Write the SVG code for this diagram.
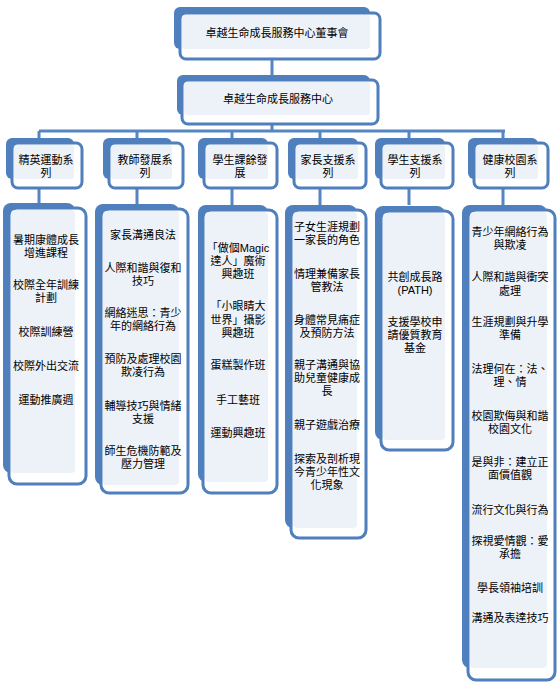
<svg xmlns="http://www.w3.org/2000/svg" width="557" height="683" viewBox="0 0 557 683">
<style>
.bk{fill:#4f7fbd}
.fr{fill:#ffffff;stroke:#4f7fbd;stroke-width:3}
.in{fill:#edf1f8}
.c{stroke:#5585c2;stroke-width:3;fill:none}
text{font-family:"Liberation Sans","Noto Sans CJK TC","Noto Sans CJK SC",sans-serif;font-size:11px;fill:#000;text-anchor:middle;dominant-baseline:central}
</style>
<rect width="557" height="683" fill="#ffffff"/>
<g id="connectors">
<line class="c" x1="272" y1="58" x2="272" y2="76"/>
<line class="c" x1="272" y1="123" x2="272" y2="131"/>
<line class="c" x1="39" y1="131" x2="505" y2="131"/>
<line class="c" x1="39" y1="131" x2="39" y2="139"/>
<line class="c" x1="137" y1="131" x2="137" y2="139"/>
<line class="c" x1="232" y1="131" x2="232" y2="139"/>
<line class="c" x1="320" y1="131" x2="320" y2="139"/>
<line class="c" x1="409" y1="131" x2="409" y2="139"/>
<line class="c" x1="503" y1="131" x2="503" y2="139"/>
<line class="c" x1="39" y1="188" x2="39" y2="205"/>
<line class="c" x1="137" y1="188" x2="137" y2="205"/>
<line class="c" x1="232" y1="188" x2="232" y2="205"/>
<line class="c" x1="320" y1="188" x2="320" y2="205"/>
<line class="c" x1="409" y1="188" x2="409" y2="205"/>
<line class="c" x1="503" y1="188" x2="503" y2="205"/>
</g>
<g id="board">
<rect class="bk" x="174" y="7" width="196" height="42" rx="6"/>
<rect class="fr" x="180" y="13" width="200" height="46" rx="6"/>
<rect class="in" x="182" y="15" width="188" height="34" rx="3"/>
<text x="277" y="33">卓越生命成長服務中心董事會</text>
</g>
<g id="center">
<rect class="bk" x="177" y="75" width="193" height="40" rx="6"/>
<rect class="fr" x="182" y="80" width="196" height="44" rx="6"/>
<rect class="in" x="184" y="82" width="186" height="33" rx="3"/>
<text x="278" y="99">卓越生命成長服務中心</text>
</g>
<g id="h1">
<rect class="bk" x="6" y="138" width="68" height="41" rx="6"/>
<rect class="fr" x="12" y="143" width="70" height="45" rx="6"/>
<rect class="in" x="14" y="145" width="60" height="34" rx="3"/>
<text x="46" y="160">精英運動系<tspan x="46" dy="13">列</tspan></text>
</g>
<g id="h2">
<rect class="bk" x="103" y="138" width="69" height="41" rx="6"/>
<rect class="fr" x="109" y="143" width="74" height="45" rx="6"/>
<rect class="in" x="111" y="145" width="61" height="34" rx="3"/>
<text x="145" y="160">教師發展系<tspan x="145" dy="13">列</tspan></text>
</g>
<g id="h3">
<rect class="bk" x="198" y="138" width="70" height="41" rx="6"/>
<rect class="fr" x="204" y="143" width="73" height="45" rx="6"/>
<rect class="in" x="206" y="145" width="62" height="34" rx="3"/>
<text x="240" y="160">學生課餘發<tspan x="240" dy="13">展</tspan></text>
</g>
<g id="h4">
<rect class="bk" x="288" y="138" width="70" height="41" rx="6"/>
<rect class="fr" x="294" y="143" width="72" height="45" rx="6"/>
<rect class="in" x="296" y="145" width="62" height="34" rx="3"/>
<text x="328" y="160">家長支援系<tspan x="328" dy="13">列</tspan></text>
</g>
<g id="h5">
<rect class="bk" x="375" y="138" width="70" height="41" rx="6"/>
<rect class="fr" x="381" y="143" width="72" height="45" rx="6"/>
<rect class="in" x="383" y="145" width="62" height="34" rx="3"/>
<text x="415" y="160">學生支援系<tspan x="415" dy="13">列</tspan></text>
</g>
<g id="h6">
<rect class="bk" x="468" y="138" width="70" height="41" rx="6"/>
<rect class="fr" x="474" y="143" width="74" height="45" rx="6"/>
<rect class="in" x="476" y="145" width="62" height="34" rx="3"/>
<text x="510" y="160">健康校園系<tspan x="510" dy="13">列</tspan></text>
</g>
<g id="b1">
<rect class="bk" x="3" y="203" width="72" height="270" rx="8"/>
<rect class="fr" x="9" y="208" width="77" height="276" rx="8"/>
<rect class="in" x="11" y="210" width="64" height="263" rx="4"/>
<text x="46" y="240">暑期康體成長<tspan x="46" dy="13">增進課程</tspan></text>
<text x="46" y="285">校際全年訓練<tspan x="46" dy="13">計劃</tspan></text>
<text x="46" y="332">校際訓練營</text>
<text x="46" y="366">校際外出交流</text>
<text x="46" y="400">運動推廣週</text>
</g>
<g id="b2">
<rect class="bk" x="95" y="204" width="84" height="281" rx="8"/>
<rect class="fr" x="101" y="209" width="87" height="284" rx="8"/>
<rect class="in" x="103" y="211" width="76" height="274" rx="4"/>
<text x="143" y="235">家長溝通良法</text>
<text x="143" y="268">人際和諧與復和<tspan x="143" dy="13">技巧</tspan></text>
<text x="143" y="313">網絡迷思：青少<tspan x="143" dy="13">年的網絡行為</tspan></text>
<text x="143" y="359">預防及處理校園<tspan x="143" dy="13">欺凌行為</tspan></text>
<text x="143" y="406">輔導技巧與情緒<tspan x="143" dy="13">支援</tspan></text>
<text x="143" y="451">師生危機防範及<tspan x="143" dy="13">壓力管理</tspan></text>
</g>
<g id="b3">
<rect class="bk" x="198" y="205" width="70" height="277" rx="8"/>
<rect class="fr" x="203" y="210" width="74" height="283" rx="8"/>
<rect class="in" x="205" y="212" width="63" height="270" rx="4"/>
<text x="238" y="248">「做個Magic<tspan x="238" dy="13">達人」魔術</tspan><tspan x="238" dy="13">興趣班</tspan></text>
<text x="238" y="306">「小眼睛大<tspan x="238" dy="14">世界」攝影</tspan><tspan x="238" dy="13">興趣班</tspan></text>
<text x="238" y="365">蛋糕製作班</text>
<text x="238" y="400">手工藝班</text>
<text x="238" y="433">運動興趣班</text>
</g>
<g id="b4">
<rect class="bk" x="285" y="205" width="72" height="323" rx="8"/>
<rect class="fr" x="291" y="210" width="75" height="328" rx="8"/>
<rect class="in" x="293" y="212" width="64" height="316" rx="4"/>
<text x="327" y="227">子女生涯規劃<tspan x="327" dy="13">一家長的角色</tspan></text>
<text x="327" y="274">情理兼備家長<tspan x="327" dy="13">管教法</tspan></text>
<text x="327" y="320">身體常見痛症<tspan x="327" dy="13">及預防方法</tspan></text>
<text x="327" y="365">親子溝通與協<tspan x="327" dy="13">助兒童健康成</tspan><tspan x="327" dy="13">長</tspan></text>
<text x="327" y="425">親子遊戲治療</text>
<text x="327" y="459">探索及剖析現<tspan x="327" dy="13">今青少年性文</tspan><tspan x="327" dy="13">化現象</tspan></text>
</g>
<g id="b5">
<rect class="bk" x="375" y="206" width="70" height="234" rx="8"/>
<rect class="fr" x="381" y="211" width="72" height="239" rx="8"/>
<rect class="in" x="383" y="213" width="62" height="227" rx="4"/>
<text x="415" y="277">共創成長路<tspan x="415" dy="13">(PATH)</tspan></text>
<text x="415" y="322">支援學校申<tspan x="415" dy="13">請優質教育</tspan><tspan x="415" dy="13">基金</tspan></text>
</g>
<g id="b6">
<rect class="bk" x="462" y="205" width="85" height="463" rx="8"/>
<rect class="fr" x="468" y="210" width="87" height="470" rx="8"/>
<rect class="in" x="470" y="212" width="77" height="456" rx="4"/>
<text x="510" y="232">青少年網絡行為<tspan x="510" dy="13">與欺凌</tspan></text>
<text x="510" y="277">人際和諧與衝突<tspan x="510" dy="14">處理</tspan></text>
<text x="510" y="322">生涯規劃與升學<tspan x="510" dy="13">準備</tspan></text>
<text x="510" y="369">法理何在：法、<tspan x="510" dy="13">理、情</tspan></text>
<text x="510" y="416">校園欺侮與和諧<tspan x="510" dy="13">校園文化</tspan></text>
<text x="510" y="462">是與非：建立正<tspan x="510" dy="13">面價值觀</tspan></text>
<text x="510" y="510">流行文化與行為</text>
<text x="510" y="541">探視愛情觀：愛<tspan x="510" dy="13">承擔</tspan></text>
<text x="510" y="588">學長領袖培訓</text>
<text x="510" y="618">溝通及表達技巧</text>
</g>
</svg>
